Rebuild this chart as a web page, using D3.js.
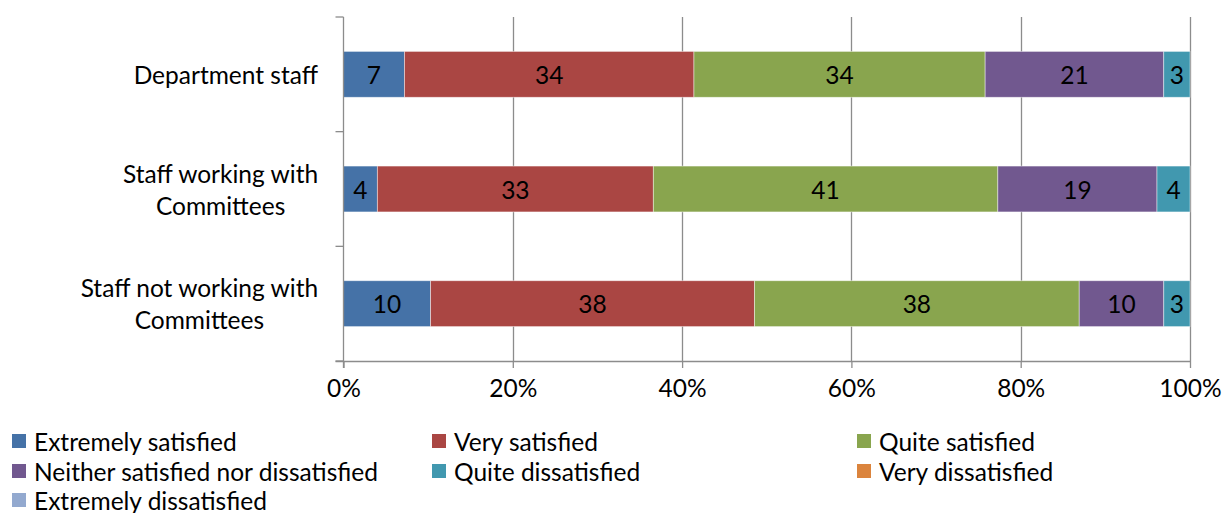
<!DOCTYPE html>
<html>
<head>
<meta charset="utf-8">
<script src="https://cdn.jsdelivr.net/npm/d3@7"></script>
<style>
  html, body { margin:0; padding:0; background:#fff; }
  svg { display:block; }
  text { font-family: Lato, "Open Sans", sans-serif; fill:#000; }
</style>
</head>
<body>
<svg id="chart" width="1229" height="513"></svg>
<script>
// ── data (percent of respondents) ──
const groups = [
  ['Department staff'],
  ['Staff working with', 'Committees'],
  ['Staff not working with', 'Committees'],
];
const series = [
  'Extremely satisfied', 'Very satisfied', 'Quite satisfied',
  'Neither satisfied nor dissatisfied', 'Quite dissatisfied',
  'Very dissatisfied', 'Extremely dissatisfied',
];
const deptStaff     = [7.2, 34.2, 34.4, 21.1, 3.1, 0, 0];
const withCommittee = [4.0, 32.6, 40.7, 18.8, 3.9, 0, 0];
const notCommittee  = [10.3, 38.3, 38.4, 10.0, 3.1, 0, 0];
const xTicks = [0, 0.2, 0.4, 0.6, 0.8, 1];
const colors = ['#4572A7', '#AA4643', '#89A54E', '#71588F', '#4198AF', '#DB843D', '#93A9CF'];

const rows = [deptStaff, withCommittee, notCommittee].map((vals, i) => {
  const r = { key: i };
  series.forEach((s, j) => r[s] = vals[j]);
  return r;
});

// ═══════════════════════════════════════════
//  LAYOUT
// ═══════════════════════════════════════════
const svg = d3.select('#chart');
const plot = { left: 343.5, right: 1190, top: 17, bottom: 361 };
const FS = 24.5;
const gridCol = '#8c8c8c';

const x = d3.scaleLinear().domain([0, 1]).range([plot.left, plot.right]);
const y = d3.scaleBand().domain(rows.map(r => r.key))
  .range([plot.top, plot.bottom]).paddingInner(0.6).paddingOuter(0.3);
const color = d3.scaleOrdinal().domain(series).range(colors);

const stacked = d3.stack().keys(series).offset(d3.stackOffsetExpand)(rows);

// gridlines
svg.append('g').selectAll('line')
  .data(xTicks.filter(t => t > 0))
  .join('line')
  .attr('x1', d => Math.round(x(d)) + 0.5).attr('x2', d => Math.round(x(d)) + 0.5)
  .attr('y1', plot.top).attr('y2', plot.bottom)
  .attr('stroke', gridCol).attr('stroke-width', 1.3);

// bars
const gBars = svg.append('g');
stacked.forEach(layer => {
  gBars.append('g').attr('fill', color(layer.key))
    .selectAll('rect')
    .data(layer.filter(d => d[1] > d[0]))
    .join('rect')
    .attr('x', d => x(d[0]))
    .attr('y', d => y(d.data.key))
    .attr('width', d => x(d[1]) - x(d[0]))
    .attr('height', y.bandwidth())
    .attr('stroke', '#ffffff').attr('stroke-opacity', 0.55).attr('stroke-width', 0.8);
});

// segment labels
const fmt = d3.format('.0f');
stacked.forEach(layer => {
  svg.append('g').selectAll('text')
    .data(layer.filter(d => d[1] > d[0]))
    .join('text')
    .attr('x', d => (x(d[0]) + x(d[1])) / 2)
    .attr('y', d => y(d.data.key) + y.bandwidth() / 2)
    .attr('text-anchor', 'middle')
    .attr('dominant-baseline', 'central')
    .attr('font-size', FS)
    .text(d => fmt(d.data[layer.key]));
});

// x axis
const xAxis = svg.append('g')
  .attr('transform', `translate(0,${plot.bottom})`)
  .call(d3.axisBottom(x).tickValues(xTicks).tickFormat(d3.format('.0%')).tickSizeOuter(0).tickSize(7).tickPadding(12));
xAxis.select('.domain').attr('d', `M${plot.left - 8},0.5H${plot.right}`).attr('stroke', gridCol).attr('stroke-width', 1.3);
xAxis.selectAll('.tick line').attr('stroke', gridCol).attr('stroke-width', 1.3);
xAxis.selectAll('.tick text').attr('font-size', FS).attr('font-family', 'Lato, sans-serif').attr('fill', '#000');

// y axis line + ticks at band boundaries
const yBounds = [plot.top].concat(rows.map((r, i) => plot.top + (i + 1) * y.step()));
const gY = svg.append('g');
gY.append('line')
  .attr('x1', plot.left).attr('x2', plot.left)
  .attr('y1', plot.top).attr('y2', plot.bottom + 7)
  .attr('stroke', gridCol).attr('stroke-width', 1.3);
gY.selectAll('line.tk').data(yBounds).join('line').attr('class', 'tk')
  .attr('x1', plot.left - 8).attr('x2', plot.left)
  .attr('y1', d => d).attr('y2', d => d)
  .attr('stroke', gridCol).attr('stroke-width', 1.3);

// category labels: block right-aligned, lines centred within block
const lineH = 32;
rows.forEach((r, i) => {
  const lines = groups[i];
  const cy = y(r.key) + y.bandwidth() / 2;
  const t = gY.append('text').attr('font-size', FS).attr('text-anchor', 'middle');
  lines.forEach(ln => t.append('tspan').text(ln));
  const widest = d3.max(t.selectAll('tspan').nodes(), n => n.getComputedTextLength());
  const cx = 318 - widest / 2;
  t.selectAll('tspan')
    .attr('x', cx)
    .attr('y', (d, k) => cy + (k - (lines.length - 1) / 2) * lineH)
    .attr('dominant-baseline', 'central');
});

// legend
const legCols = [12, 432, 857];
const legRows = [441, 471, 500];
const gLeg = svg.append('g');
series.forEach((s, i) => {
  const lx = legCols[i % 3], ly = legRows[Math.floor(i / 3)];
  gLeg.append('rect')
    .attr('x', lx).attr('y', ly - 7).attr('width', 14).attr('height', 14)
    .attr('fill', color(s));
  gLeg.append('text')
    .attr('x', lx + 22).attr('y', ly)
    .attr('dominant-baseline', 'central')
    .attr('font-size', FS)
    .text(s);
});
</script>
</body>
</html>
